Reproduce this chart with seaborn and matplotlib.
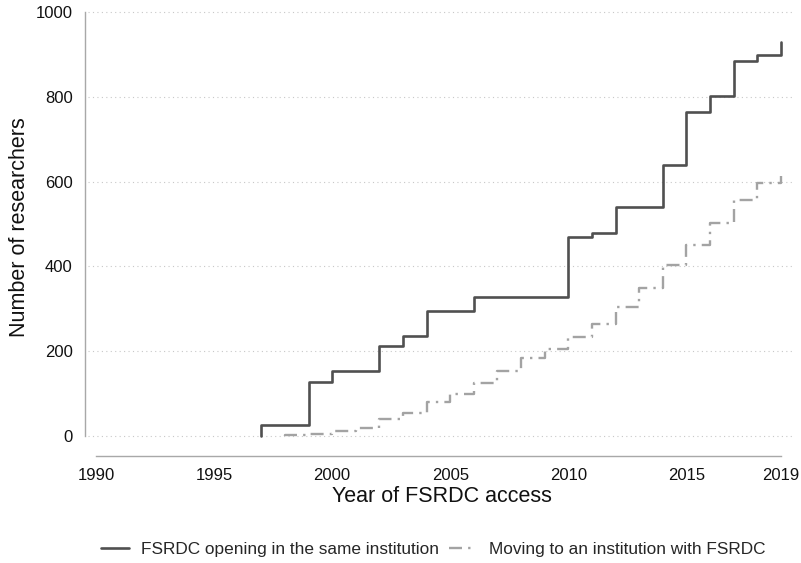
import matplotlib
matplotlib.use("Agg")
import matplotlib.pyplot as plt
from matplotlib.lines import Line2D
import pandas as pd
import seaborn as sns

# Cumulative number of researchers with FSRDC access, by year
years_same = list(range(1997, 2020))
researchers_same = [25, 25, 127, 153, 153, 213, 236, 294, 294, 328, 328, 328,
                    328, 469, 479, 539, 539, 639, 763, 801, 885, 898, 930]

years_moving = list(range(1998, 2020))
researchers_moving = [2, 4, 12, 20, 41, 55, 80, 100, 124, 153, 184, 205,
                      233, 263, 305, 348, 403, 450, 502, 557, 596, 613]

label_same = "FSRDC opening in the same institution"
label_moving = "Moving to an institution with FSRDC"

x_ticks = [1990, 1995, 2000, 2005, 2010, 2015, 2019]
y_ticks = [0, 200, 400, 600, 800, 1000]

sns.set_theme(style="white")
plt.rcParams["font.family"] = ["Liberation Sans", "DejaVu Sans"]


def step_frame(years, values):
    # start each series with a riser from zero at its first year
    return pd.DataFrame({"year": [years[0]] + years, "n": [0] + values})


df_same = step_frame(years_same, researchers_same)
df_moving = step_frame(years_moving, researchers_moving)

fig = plt.figure(figsize=(8.01, 5.63), dpi=100)
ax = fig.add_axes([88 / 801, 1 - 445 / 563, 707 / 801, 435 / 563])

solid_color = "#505050"
dash_color = "#a3a3a3"
dash_style = (0, (5.5, 2.6, 1.0, 2.6))

sns.lineplot(data=df_same, x="year", y="n", ax=ax, estimator=None, sort=False,
             drawstyle="steps-post", color=solid_color, linewidth=1.9)
sns.lineplot(data=df_moving, x="year", y="n", ax=ax, estimator=None, sort=False,
             drawstyle="steps-post", color=dash_color, linewidth=1.7,
             linestyle=dash_style)

ax.set_xlim(1989.66, 2019.6)
ax.set_ylim(-21.2, 1004.7)
ax.set_xticks(x_ticks)
ax.set_yticks(y_ticks)

ax.grid(axis="y", color="#c8c8c8", linestyle=(0, (1, 3)), linewidth=0.8)
ax.grid(axis="x", visible=False)

for side in ("top", "right"):
    ax.spines[side].set_visible(False)
ax.spines["left"].set_position(("outward", 2.2))
ax.spines["left"].set_bounds(0, 1000)
ax.spines["bottom"].set_position(("outward", 7.9))
ax.spines["bottom"].set_bounds(1990, 2019)
for side in ("left", "bottom"):
    ax.spines[side].set_color("#a8a8a8")
    ax.spines[side].set_linewidth(1.0)

ax.tick_params(axis="both", direction="out", length=5.8, width=1.0,
               color="#a8a8a8", labelsize=12, labelcolor="#111111", pad=3)

ax.set_xlabel("Year of FSRDC access", fontsize=15.5, color="#111111", labelpad=2)
ax.set_ylabel("Number of researchers", fontsize=15.5, color="#111111", labelpad=4)

handles = [
    Line2D([], [], color=solid_color, linewidth=1.9),
    Line2D([], [], color=dash_color, linewidth=1.7, linestyle=dash_style),
]
fig.legend(handles, [label_same, label_moving], loc="center",
           bbox_to_anchor=(433 / 801, 1 - 549 / 563), ncol=2, frameon=False,
           fontsize=12.4, handlelength=1.6, handletextpad=0.7,
           columnspacing=0.6, borderpad=0.2)

fig.savefig("out.png", dpi=100)
